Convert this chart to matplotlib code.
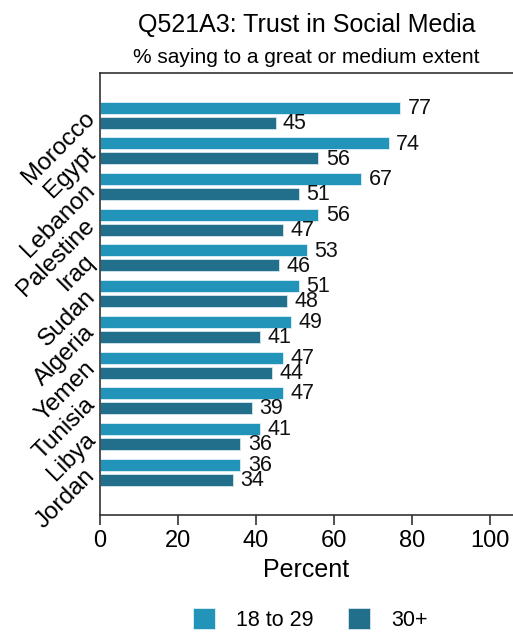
import numpy as np
import matplotlib.pyplot as plt

plt.rcParams['font.family'] = ['Liberation Sans', 'DejaVu Sans']

# data, top to bottom
countries = ['Morocco', 'Egypt', 'Lebanon', 'Palestine', 'Iraq', 'Sudan',
             'Algeria', 'Yemen', 'Tunisia', 'Libya', 'Jordan']
young = [77, 74, 67, 56, 53, 51, 49, 47, 47, 41, 36]
older = [45, 56, 51, 47, 46, 48, 41, 44, 39, 36, 34]
series_names = ['18 to 29', '30+']
colors = ['#2394b9', '#216f8a']

fig = plt.figure(figsize=(5.13, 6.35), dpi=100)
ax = fig.add_axes([0.195, 0.189, 0.805, 0.696])

y = np.arange(len(countries))
off = 0.21
h = 0.335
b1 = ax.barh(y - off, young, height=h, color=colors[0], edgecolor='#dff0f6',
             linewidth=0.6, label=series_names[0])
b2 = ax.barh(y + off, older, height=h, color=colors[1], edgecolor='#d5e6ec',
             linewidth=0.6, label=series_names[1])

for bars in (b1, b2):
    for rect in bars:
        w = rect.get_width()
        ax.text(w + 1.9, rect.get_y() + rect.get_height() / 2 + 0.02, f'{w:.0f}',
                va='center', ha='left', fontsize=15.5, color='#111111')

ax.set_xlim(0, 105.9)
ax.set_ylim(11.2, -1.18)
ax.set_xticks([0, 20, 40, 60, 80, 100])
ax.set_yticks(y)
ax.set_yticklabels(countries, rotation=45, ha='right', va='center',
                   rotation_mode='anchor', fontsize=17.5)
ax.tick_params(axis='y', length=0, pad=6)
ax.tick_params(axis='x', length=7, width=1.2, color='#333333', labelsize=17, pad=4)
ax.set_xlabel('Percent', fontsize=18, labelpad=4)

for s in ['left', 'bottom', 'top']:
    ax.spines[s].set_color('#333333')
    ax.spines[s].set_linewidth(1.2)
ax.spines['right'].set_visible(False)

fig.text(0.597, 0.960, 'Q521A3: Trust in Social Media', ha='center', va='center', fontsize=18)
fig.text(0.597, 0.909, '% saying to a great or medium extent', ha='center', va='center', fontsize=15)

fig.legend(handles=[b1, b2], labels=series_names, loc='center', ncol=2,
           bbox_to_anchor=(0.605, 0.024), frameon=False, fontsize=15.5,
           handlelength=1.0, handleheight=1.1, columnspacing=1.6, handletextpad=1.0)

fig.savefig('out.png', dpi=100)
